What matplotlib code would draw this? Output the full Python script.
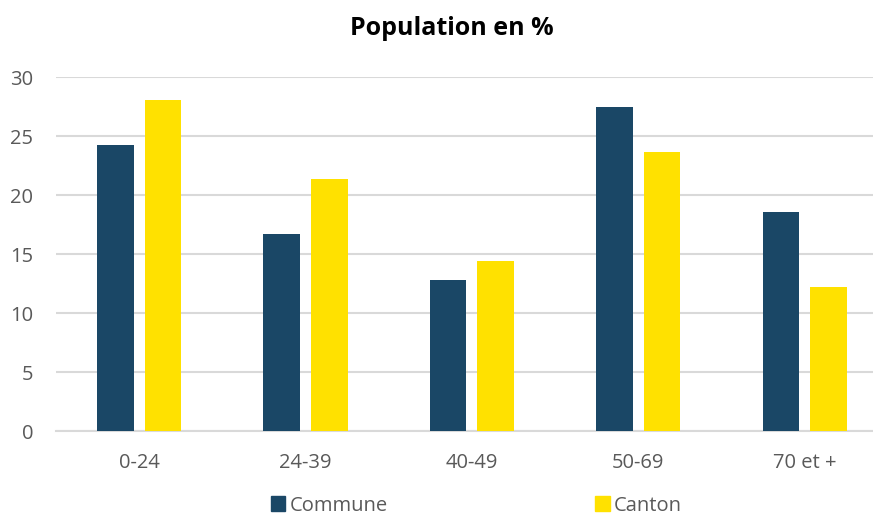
import matplotlib.pyplot as plt
import numpy as np
from matplotlib.patches import Patch

DPI = 100
FIG_SIZE = (8.73, 5.18)

CATEGORIES = ["0-24", "24-39", "40-49", "50-69", "70 et +"]
COMMUNE = [24.3, 16.7, 12.8, 27.5, 18.6]
CANTON = [28.1, 21.4, 14.4, 23.7, 12.2]
SERIES_NAMES = ["Commune", "Canton"]

NAVY = "#1a4766"
YELLOW = "#ffe100"
GRID = "#d9d9d9"
TEXT = "#595959"

plt.rcParams["font.family"] = ["Open Sans", "DejaVu Sans"]

fig = plt.figure(figsize=FIG_SIZE, dpi=DPI)
ax = fig.add_axes([0.0641, 0.1674, 0.953, 0.6834])

x = np.arange(len(CATEGORIES))
width = 0.22
offset = 0.143
ax.bar(x - offset, COMMUNE, width, color=NAVY, zorder=3)
ax.bar(x + offset, CANTON, width, color=YELLOW, zorder=3)

ax.set_xlim(-0.5, len(CATEGORIES) - 0.5)
ax.set_ylim(0, 30)
ax.set_yticks(range(0, 31, 5))
ax.set_xticks(x)
ax.set_xticklabels(CATEGORIES)
ax.grid(True, axis="y", color=GRID, linewidth=1.5, zorder=0)
ax.tick_params(axis="both", length=0, labelsize=14.5, labelcolor=TEXT)
ax.tick_params(axis="y", pad=16.5)
ax.tick_params(axis="x", pad=15.5)

for side in ["top", "right", "left"]:
    ax.spines[side].set_visible(False)
ax.spines["bottom"].set_color(GRID)
ax.spines["bottom"].set_linewidth(1.5)

fig.text(0.517, 0.945, "Population en %", ha="center", va="center",
         fontsize=18, fontweight="bold", color="black")

handles = [Patch(color=NAVY), Patch(color=YELLOW)]
fig.legend(handles, SERIES_NAMES, loc="center", bbox_to_anchor=(0.546, 0.024),
           ncol=2, frameon=False, fontsize=14.5, labelcolor=TEXT,
           handlelength=0.7, handleheight=0.7, handletextpad=0.22,
           columnspacing=10.3, borderpad=0.1)

plt.savefig("out.png", dpi=DPI)
